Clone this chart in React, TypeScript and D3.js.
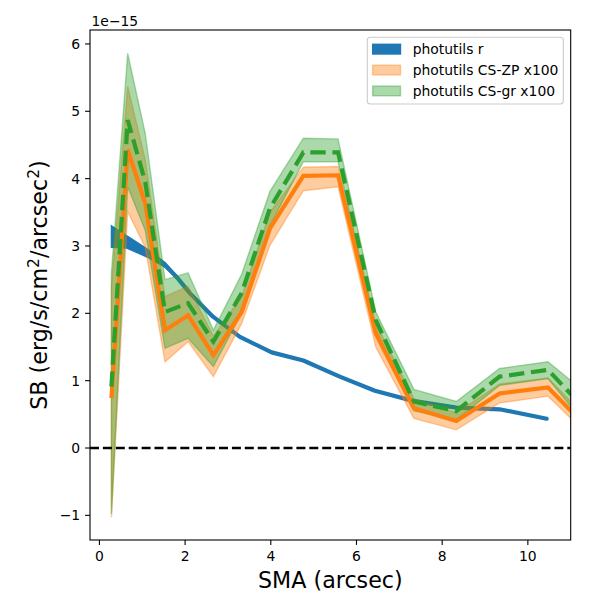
import React, { useEffect, useRef } from 'react';
import * as d3 from 'd3';

// surface brightness in units of 1e-15 erg/s/cm^2/arcsec^2
const rSma = [0.28, 0.64, 1.1, 1.53, 1.8, 2.11, 2.65, 3.28, 4.02, 4.76, 5.61, 6.43, 7.32, 8.33, 9.34, 10.47];
const rSb = [3.14, 3.06, 2.9, 2.72, 2.54, 2.3, 1.95, 1.65, 1.42, 1.3, 1.06, 0.85, 0.7, 0.6, 0.575, 0.43];
const rErr = [0.16, 0.09, 0.06, 0.035, 0.02, 0.012, 0.008, 0.006, 0.005, 0.005, 0.004, 0.004, 0.004, 0.003, 0.003, 0.003];

const csSma = [0.28, 0.66, 1.07, 1.53, 2.07, 2.66, 3.32, 3.98, 4.76, 5.57, 6.45, 7.34, 8.33, 9.34, 10.47, 11.6];
const zpSb = [0.74, 4.43, 3.63, 1.75, 1.97, 1.38, 2.02, 3.26, 4.04, 4.05, 1.7, 0.59, 0.4, 0.81, 0.9, 0.16];
const zpLo = [-1.03, 3.51, 2.98, 1.28, 1.58, 1.06, 1.85, 3.01, 3.82, 3.88, 1.5, 0.44, 0.27, 0.67, 0.77, 0.07];
const zpHi = [2.4, 5.37, 4.28, 2.25, 2.4, 1.66, 2.25, 3.5, 4.17, 4.18, 1.85, 0.73, 0.52, 0.95, 1.04, 0.3];
const grSb = [0.91, 4.87, 3.95, 2.02, 2.15, 1.58, 2.3, 3.56, 4.39, 4.39, 1.9, 0.69, 0.55, 1.06, 1.16, 0.4];
const grLo = [-0.98, 3.88, 3.23, 1.48, 1.63, 1.21, 2.0, 3.3, 4.25, 4.25, 1.75, 0.55, 0.42, 0.93, 1.03, 0.15];
const grHi = [2.6, 5.86, 4.67, 2.5, 2.6, 1.75, 2.58, 3.81, 4.6, 4.59, 2.02, 0.87, 0.69, 1.18, 1.28, 0.69];

const xTicks = [0, 2, 4, 6, 8, 10];
const yTicks = [-1, 0, 1, 2, 3, 4, 5, 6];
const legendLabels = ['photutils r', 'photutils CS-ZP x100', 'photutils CS-gr x100'];

const BLUE = '#1f77b4';
const ORANGE = '#ff7f0e';
const GREEN = '#2ca02c';

const App = () => {
  const svgRef = useRef<SVGSVGElement>(null);

  useEffect(() => {
    if (!svgRef.current) return;
    const svg = d3.select(svgRef.current);
    svg.selectAll('*').remove();

    const left = 90, right = 570.7, top = 30, bottom = 540;
    const x = d3.scaleLinear().domain([-0.22, 11]).range([left, right]);
    const y = d3.scaleLinear().domain([-1.366, 6.207]).range([bottom, top]);
    const font = 'DejaVu Sans, sans-serif';

    svg.append('defs').append('clipPath').attr('id', 'plot')
      .append('rect').attr('x', left).attr('y', top)
      .attr('width', right - left).attr('height', bottom - top);

    const plot = svg.append('g').attr('clip-path', 'url(#plot)');

    const band = (xs: number[], lo: number[], hi: number[]) =>
      d3.area<number>().x((_, i) => x(xs[i])).y0((_, i) => y(lo[i])).y1((_, i) => y(hi[i]))(xs);
    const line = (xs: number[], ys: number[]) =>
      d3.line<number>().x((_, i) => x(xs[i])).y((_, i) => y(ys[i]))(xs);

    // photutils r
    plot.append('path')
      .attr('d', band(rSma, rSb.map((v, i) => v - rErr[i]), rSb.map((v, i) => v + rErr[i])))
      .attr('fill', BLUE).attr('stroke', BLUE).attr('stroke-width', 1.4);
    plot.append('path').attr('d', line(rSma, rSb))
      .attr('fill', 'none').attr('stroke', BLUE).attr('stroke-width', 4.2)
      .attr('stroke-linejoin', 'round');

    // CS bands
    plot.append('path').attr('d', band(csSma, zpLo, zpHi))
      .attr('fill', ORANGE).attr('fill-opacity', 0.4)
      .attr('stroke', ORANGE).attr('stroke-opacity', 0.4).attr('stroke-width', 1.4);
    plot.append('path').attr('d', band(csSma, grLo, grHi))
      .attr('fill', GREEN).attr('fill-opacity', 0.4)
      .attr('stroke', GREEN).attr('stroke-opacity', 0.4).attr('stroke-width', 1.4);

    plot.append('path').attr('d', line(csSma, zpSb))
      .attr('fill', 'none').attr('stroke', ORANGE).attr('stroke-width', 4.2);
    plot.append('path').attr('d', line(csSma, grSb))
      .attr('fill', 'none').attr('stroke', GREEN).attr('stroke-width', 4.2)
      .attr('stroke-dasharray', '15.4,6.7');

    // zero line
    plot.append('line')
      .attr('x1', left).attr('x2', right).attr('y1', y(0)).attr('y2', y(0))
      .attr('stroke', 'black').attr('stroke-width', 2.4).attr('stroke-dasharray', '9,3.9');

    // spines
    svg.append('rect').attr('x', left).attr('y', top)
      .attr('width', right - left).attr('height', bottom - top)
      .attr('fill', 'none').attr('stroke', 'black').attr('stroke-width', 1.1);

    // x ticks
    const xt = svg.append('g');
    xTicks.forEach(t => {
      xt.append('line').attr('x1', x(t)).attr('x2', x(t)).attr('y1', bottom).attr('y2', bottom + 4.9)
        .attr('stroke', 'black').attr('stroke-width', 1.1);
      xt.append('text').attr('x', x(t)).attr('y', 560.7).attr('text-anchor', 'middle')
        .attr('font-family', font).attr('font-size', 13.9).text(String(t));
    });

    // y ticks
    const yt = svg.append('g');
    yTicks.forEach(t => {
      yt.append('line').attr('x1', left - 4.9).attr('x2', left).attr('y1', y(t)).attr('y2', y(t))
        .attr('stroke', 'black').attr('stroke-width', 1.1);
      yt.append('text').attr('x', 80.2).attr('y', y(t)).attr('dy', '0.36em').attr('text-anchor', 'end')
        .attr('font-family', font).attr('font-size', 13.9).text(t < 0 ? `\u2212${-t}` : String(t));
    });

    svg.append('text').attr('x', 91.5).attr('y', 26).attr('font-family', font)
      .attr('font-size', 13.9).text('1e\u221215');

    // axis labels
    svg.append('text').attr('x', (left + right) / 2).attr('y', 588)
      .attr('text-anchor', 'middle').attr('font-family', font).attr('font-size', 22.2)
      .text('SMA (arcsec)');

    const yl = svg.append('text')
      .attr('transform', `translate(47,${(top + bottom) / 2}) rotate(-90)`)
      .attr('text-anchor', 'middle').attr('font-family', font).attr('font-size', 22.2);
    yl.append('tspan').text('SB (erg/s/cm');
    yl.append('tspan').attr('font-size', 15.5).attr('dy', -8).text('2');
    yl.append('tspan').attr('dy', 8).text('/arcsec');
    yl.append('tspan').attr('font-size', 15.5).attr('dy', -8).text('2');
    yl.append('tspan').attr('dy', 8).text(')');

    // legend
    const lg = svg.append('g');
    lg.append('rect').attr('x', 367.3).attr('y', 37.3).attr('width', 196).attr('height', 66.7)
      .attr('rx', 3).attr('fill', 'white').attr('fill-opacity', 0.8)
      .attr('stroke', '#cccccc').attr('stroke-width', 1.1);
    const legendColors = [BLUE, ORANGE, GREEN];
    const legendAlpha = [1, 0.4, 0.4];
    legendLabels.forEach((label, i) => {
      const cy = 49.2 + i * 20.9;
      lg.append('rect').attr('x', 372.7).attr('y', cy - 4.9).attr('width', 27.8).attr('height', 9.7)
        .attr('fill', legendColors[i]).attr('fill-opacity', legendAlpha[i])
        .attr('stroke', legendColors[i]).attr('stroke-opacity', legendAlpha[i]).attr('stroke-width', 1.4);
      lg.append('text').attr('x', 412.7).attr('y', cy).attr('dy', '0.36em')
        .attr('font-family', font).attr('font-size', 13.9).text(label);
    });
  }, []);

  return (
    <div style={{ position: 'absolute', left: 0, top: 0 }}>
      <svg ref={svgRef} width={600} height={600} viewBox="0 0 600 600" style={{ display: 'block', background: 'white' }} />
    </div>
  );
};

export default App;
